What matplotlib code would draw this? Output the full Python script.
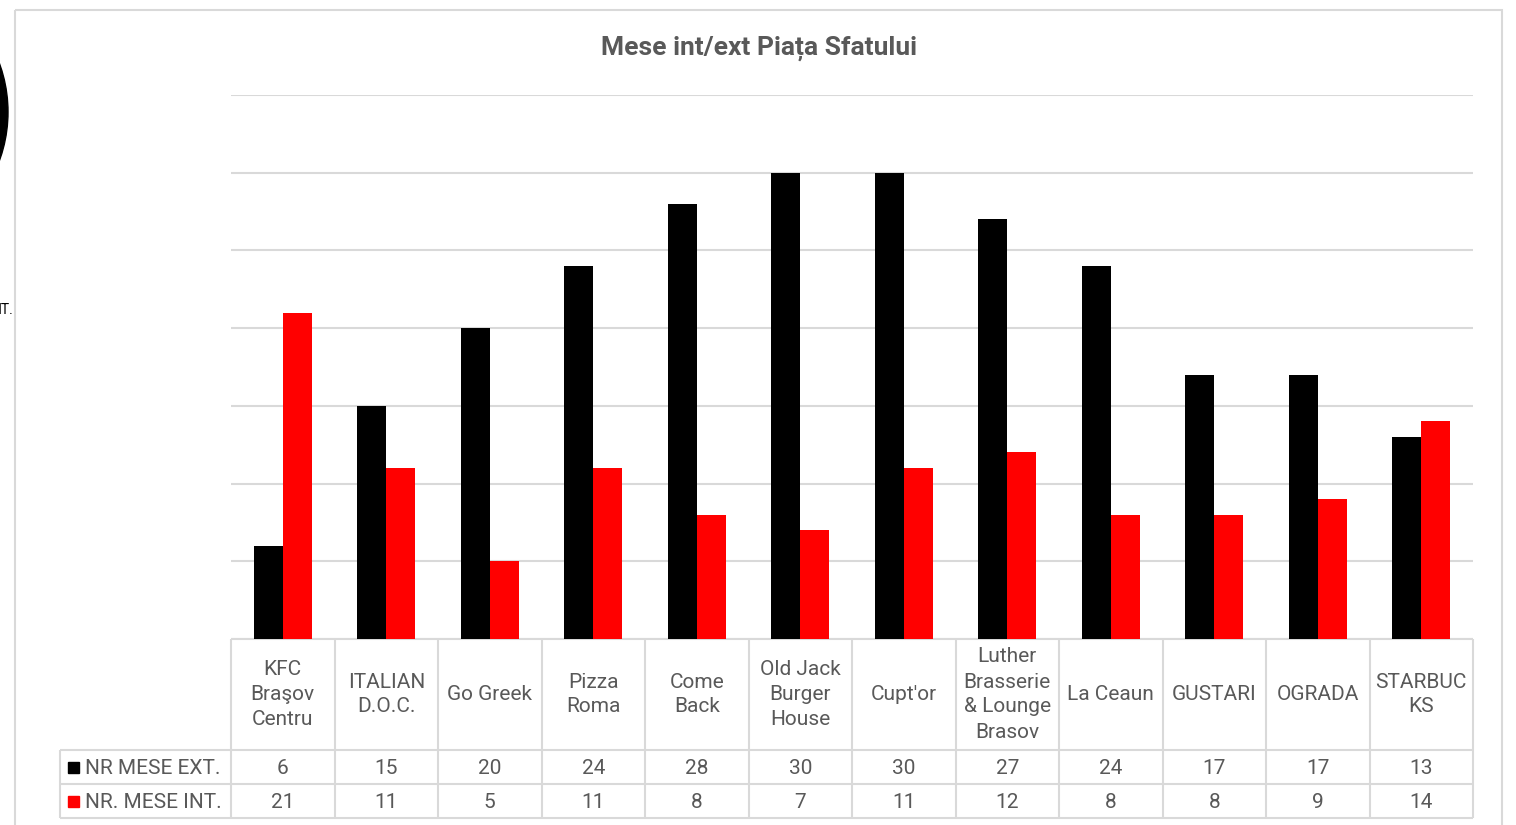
import matplotlib
matplotlib.use("Agg")
import matplotlib.pyplot as plt
from matplotlib.patches import Rectangle, Wedge
import numpy as np

plt.rcParams['font.family'] = ['Roboto', 'DejaVu Sans']

title = "Mese int/ext Piața Sfatului"
categories = ["KFC\nBraşov\nCentru", "ITALIAN\nD.O.C.", "Go Greek", "Pizza\nRoma", "Come\nBack",
              "Old Jack\nBurger\nHouse", "Cupt'or", "Luther\nBrasserie\n& Lounge\nBrasov",
              "La Ceaun", "GUSTARI", "OGRADA", "STARBUC\nKS"]
series_names = ["NR MESE EXT.", "NR. MESE INT."]
mese_ext = [6, 15, 20, 24, 28, 30, 30, 27, 24, 17, 17, 13]
mese_int = [21, 11, 5, 11, 8, 7, 11, 12, 8, 8, 9, 14]
colors = ["#000000", "#ff0000"]

W, H = 1516, 825
fig = plt.figure(figsize=(W / 100, H / 100), dpi=100)
fig.patch.set_facecolor("white")

# overlay axes in pixel coordinates
ov = fig.add_axes([0, 0, 1, 1])
ov.set_xlim(0, W)
ov.set_ylim(H, 0)
ov.axis("off")

grey = "#d9d9d9"
txt = "#595959"
fs = 15

# outer chart frame
ov.add_patch(Rectangle((15, 10), 1487, 830, fill=False, edgecolor=grey, lw=1.5))

# artifacts from neighbouring chart
ov.add_patch(Wedge((-134, 112), 142, -30, 30, width=30, color="black"))
ov.text(14, 310, "NT.", ha="right", va="center", fontsize=10, color="black")

# plot area
L, R, T, B = 231, 1473, 95, 639
ax = fig.add_axes([L / W, 1 - B / H, (R - L) / W, (B - T) / H])
ax.patch.set_alpha(0)
n = len(categories)
x = np.arange(n)
bw = 0.28
ax.bar(x - bw / 2, mese_ext, width=bw, color=colors[0], zorder=3)
ax.bar(x + bw / 2, mese_int, width=bw, color=colors[1], zorder=3)
ax.set_xlim(-0.5, n - 0.5)
ax.set_ylim(0, 35)
ax.set_yticks(np.arange(0, 36, 5))
ax.yaxis.grid(True, color=grey, lw=1.5, zorder=0)
ax.set_xticks([])
ax.tick_params(left=False, labelleft=False)
for s in ax.spines.values():
    s.set_visible(False)

fig.text(759 / W, 1 - 48.5 / H, title, ha="center", va="center", fontsize=19,
         fontweight="bold", color=txt)

# data table
cw = (R - L) / n
y_hdr_top, y_r1, y_r2, y_bot = 639, 750, 784, 818
lbl_left = 60
lk = dict(color=grey, lw=1.5, solid_capstyle="butt")
ov.plot([L, R], [y_hdr_top, y_hdr_top], **lk)
for yy in (y_r1, y_r2, y_bot):
    ov.plot([lbl_left, R], [yy, yy], **lk)
for k in range(n + 1):
    ov.plot([L + k * cw, L + k * cw], [y_hdr_top, y_bot], **lk)
ov.plot([lbl_left, lbl_left], [y_r1, y_bot], **lk)

for i, c in enumerate(categories):
    cx = L + (i + 0.5) * cw
    ov.text(cx, (y_hdr_top + y_r1) / 2, c, ha="center", va="center", fontsize=fs,
            color=txt, linespacing=1.4, multialignment="center")
    ov.text(cx, (y_r1 + y_r2) / 2 + 1, str(mese_ext[i]), ha="center", va="center",
            fontsize=fs, color=txt)
    ov.text(cx, (y_r2 + y_bot) / 2 + 1, str(mese_int[i]), ha="center", va="center",
            fontsize=fs, color=txt)

for j, (name, col) in enumerate(zip(series_names, colors)):
    yc = [(y_r1 + y_r2) / 2, (y_r2 + y_bot) / 2][j]
    ov.add_patch(Rectangle((68, yc - 5.5), 11, 11, color=col))
    ov.text(85, yc + 1, name, ha="left", va="center", fontsize=fs, color=txt)

fig.savefig("out.png", dpi=100, facecolor="white")
